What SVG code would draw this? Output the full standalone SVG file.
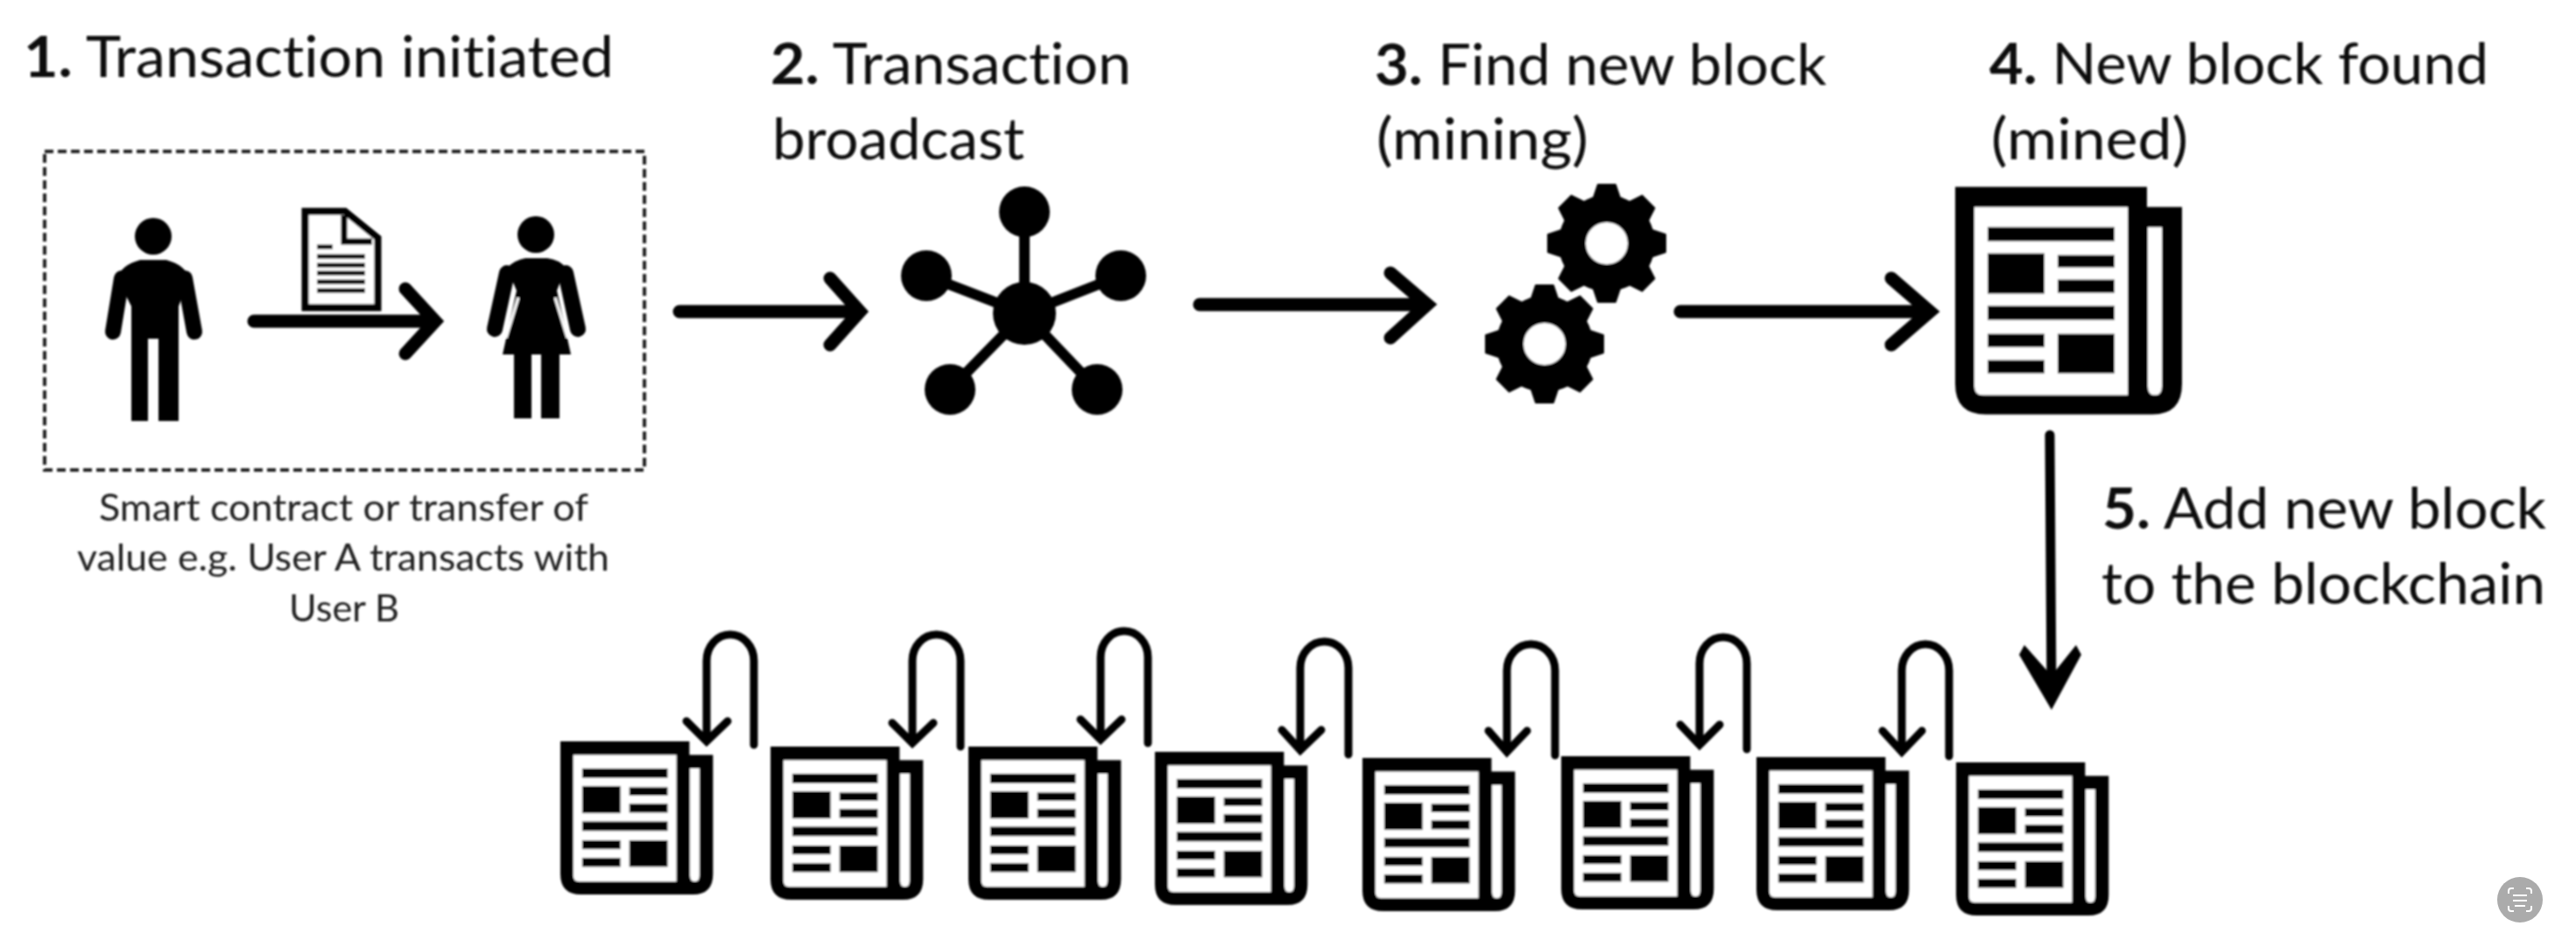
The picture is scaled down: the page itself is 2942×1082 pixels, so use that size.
<svg xmlns="http://www.w3.org/2000/svg" xmlns:xlink="http://www.w3.org/1999/xlink" width="2942" height="1082" viewBox="0 0 2942 1082">
<style>
text{font-family:"Lato","Carlito","Open Sans",sans-serif;fill:#0a0a0a;font-variant-ligatures:none}
.t{font-size:65px}
.b{font-weight:700}
.c{font-size:42px;fill:#222}
.conn{fill:none;stroke:#000;stroke-linecap:round;stroke-linejoin:miter}
.w15{stroke-width:15}
.w9{stroke-width:9}
.w12{stroke-width:11}
.k{fill:#000}
.wh{fill:#fff}
</style>
<defs>
<filter id="soft" x="-2%" y="-2%" width="104%" height="104%"><feGaussianBlur stdDeviation="1.1"/></filter>
<g id="paper">
<path class="k" d="M0 0H219V23H259V225Q259 260 225 260H35Q0 260 0 225Z"/>
<path class="wh" d="M22 23H197V238H32Q22 238 22 228Z"/>
<path class="wh" d="M220 46H236V228Q236 238 228 238Q220 238 220 228Z"/>
<g class="k">
<rect x="37" y="46" width="145" height="16"/>
<rect x="37" y="76" width="65" height="46"/>
<rect x="117" y="78" width="65" height="14"/>
<rect x="117" y="106" width="65" height="15"/>
<rect x="37" y="136" width="145" height="16"/>
<rect x="37" y="168" width="65" height="15"/>
<rect x="37" y="198" width="65" height="15"/>
<rect x="117" y="168" width="65" height="45"/>
</g>
</g>
<path id="tooth" class="k" d="M-15-52L-10-67H10L15-52Z" stroke="#000" stroke-width="2" stroke-linejoin="round"/>
<g id="gear">
<circle class="k" r="55"/>
<use xlink:href="#tooth" href="#tooth"/>
<use xlink:href="#tooth" href="#tooth" transform="rotate(45)"/>
<use xlink:href="#tooth" href="#tooth" transform="rotate(90)"/>
<use xlink:href="#tooth" href="#tooth" transform="rotate(135)"/>
<use xlink:href="#tooth" href="#tooth" transform="rotate(180)"/>
<use xlink:href="#tooth" href="#tooth" transform="rotate(225)"/>
<use xlink:href="#tooth" href="#tooth" transform="rotate(270)"/>
<use xlink:href="#tooth" href="#tooth" transform="rotate(315)"/>
<circle class="wh" r="24"/>
</g>
</defs>
<rect width="2942" height="1082" fill="#fff"/>
<g filter="url(#soft)">
<g id="step1">
<text class="t" x="27" y="88" textLength="674" lengthAdjust="spacingAndGlyphs"><tspan class="b">1.</tspan> Transaction initiated</text>
<rect x="51" y="173" width="685" height="364" fill="none" stroke="#222" stroke-width="4" stroke-dasharray="10 5"/>
<g id="user-a">
<circle class="k" cx="175" cy="270" r="21"/>
<path class="k" d="M134 318Q138 303 160 297H190Q212 303 216 318L204 350V481H181V387H169V481H150V350Z"/>
<path d="M139 318L129 379M211 318L222 379" stroke="#000" stroke-width="18" stroke-linecap="round" fill="none"/>
</g>
<g id="document">
<path d="M348.500 241.500H394L431.500 272V351.500H348.500Z" fill="#fff" stroke="#000" stroke-width="8"/>
<path d="M393 246V276H425" fill="none" stroke="#000" stroke-width="7"/>
<path d="M362 282H380M362 293H417M362 303H417M362 312H417M362 322H417M362 332H417" stroke="#000" stroke-width="5" fill="none"/>
</g>
<g id="user-b">
<circle class="k" cx="612" cy="268" r="21"/>
<path class="k" d="M579 306Q588 297 600 295H625Q640 297 646 306L636 332L652 405H574L590 332Z"/>
<path d="M579 312L565 376M646 312L660 376" stroke="#000" stroke-width="18" stroke-linecap="round" fill="none"/>
<path d="M592 340L578 386M634 340L648 386" stroke="#fff" stroke-width="3" fill="none"/>
<rect class="k" x="587" y="400" width="20" height="78"/>
<rect class="k" x="618" y="400" width="21" height="78"/>
</g>
<text class="c" x="113" y="595" textLength="559" lengthAdjust="spacingAndGlyphs">Smart contract or transfer of</text>
<text class="c" x="88" y="652" textLength="608" lengthAdjust="spacingAndGlyphs">value e.g. User A transacts with</text>
<text class="c" x="330" y="710" textLength="126" lengthAdjust="spacingAndGlyphs">User B</text>
</g>
<g id="step2">
<text class="t" x="880" y="96" textLength="412" lengthAdjust="spacingAndGlyphs"><tspan class="b">2.</tspan> Transaction</text>
<text class="t" x="882" y="182" textLength="288" lengthAdjust="spacingAndGlyphs">broadcast</text>
<path d="M1170 242V358M1058 315L1170 358L1280 315M1085 445L1170 358L1253 445" fill="none" stroke="#000" stroke-width="12"/>
<circle class="k" cx="1170" cy="358" r="36"/>
<circle class="k" cx="1170" cy="242" r="29"/>
<circle class="k" cx="1058" cy="315" r="29"/>
<circle class="k" cx="1280" cy="315" r="29"/>
<circle class="k" cx="1085" cy="445" r="29"/>
<circle class="k" cx="1253" cy="445" r="29"/>
</g>
<g id="step3">
<text class="t" x="1570" y="97" textLength="516" lengthAdjust="spacingAndGlyphs"><tspan class="b">3.</tspan> Find new block</text>
<text class="t" x="1572" y="182" textLength="242" lengthAdjust="spacingAndGlyphs">(mining)</text>
<use xlink:href="#gear" href="#gear" x="1764" y="393"/>
<use xlink:href="#gear" href="#gear" x="1835" y="278"/>
</g>
<g id="step4">
<text class="t" x="2272" y="96" textLength="570" lengthAdjust="spacingAndGlyphs"><tspan class="b">4.</tspan> New block found</text>
<text class="t" x="2274" y="182" textLength="225" lengthAdjust="spacingAndGlyphs">(mined)</text>
<use xlink:href="#paper" href="#paper" transform="translate(2233 213.500)"/>
</g>
<g id="step5">
<text class="t" x="2401" y="604" textLength="507" lengthAdjust="spacingAndGlyphs"><tspan class="b">5.</tspan> Add new block</text>
<text class="t" x="2400" y="690" textLength="507" lengthAdjust="spacingAndGlyphs">to the blockchain</text>
</g>
<g id="chain">
<use id="block1" xlink:href="#paper" href="#paper" transform="translate(640 847) scale(.673)"/>
<use id="block2" xlink:href="#paper" href="#paper" transform="translate(880 853) scale(.673)"/>
<use id="block3" xlink:href="#paper" href="#paper" transform="translate(1106 853) scale(.673)"/>
<use id="block4" xlink:href="#paper" href="#paper" transform="translate(1319 859) scale(.673)"/>
<use id="block5" xlink:href="#paper" href="#paper" transform="translate(1556 866) scale(.673)"/>
<use id="block6" xlink:href="#paper" href="#paper" transform="translate(1783 864) scale(.673)"/>
<use id="block7" xlink:href="#paper" href="#paper" transform="translate(2006 865) scale(.673)"/>
<use id="block8" xlink:href="#paper" href="#paper" transform="translate(2234 871) scale(.673)"/>
</g>
<g id="connectors">
<path class="conn w15" d="M290 367H496M463 330L497 367L463 404"/>
<path class="conn w15" d="M776 356H982M948 318L982 356L948 394"/>
<path class="conn w15" d="M1370 348H1630M1588 312L1630 348L1588 386"/>
<path class="conn w15" d="M1919 356H2204M2160 318L2204 356L2160 394"/>
<path class="conn w12" d="M2341 497L2343 790"/>
<path class="k" d="M2343 811L2306 748L2312 737L2343 772L2371 737L2377 748Z"/>
<path class="conn w9" d="M861 851V755A27 30 0 0 0 807 755V847M784 824L807 847L831 824"/>
<path class="conn w9" d="M1097 853V755A27.500 30 0 0 0 1042 755V849M1019 826L1042 849L1066 826"/>
<path class="conn w9" d="M1311 849V751A27 30 0 0 0 1257 751V845M1234 822L1257 845L1281 822"/>
<path class="conn w9" d="M1540 862V763A27.500 30 0 0 0 1485 763V857M1464 834L1485 857L1509 834"/>
<path class="conn w9" d="M1776 863V766A27.500 30 0 0 0 1721 766V859M1700 835L1721 859L1744 835"/>
<path class="conn w9" d="M1995 856V758A27 30 0 0 0 1941 758V851M1919 828L1941 851L1964 828"/>
<path class="conn w9" d="M2226 864V766A27 30 0 0 0 2172 766V859M2150 835L2172 859L2195 835"/>
</g>
</g>
<g id="badge">
<circle cx="2878" cy="1028" r="26" fill="#ababab"/>
<path d="M2865 1021V1018Q2865 1015 2868 1015H2871M2885 1015H2888Q2891 1015 2891 1018V1021M2865 1035V1038Q2865 1041 2868 1041H2871M2885 1041H2888Q2891 1041 2891 1038V1035M2870 1023H2886M2870 1029H2886M2872 1035H2884" fill="none" stroke="#fff" stroke-width="2"/>
</g>
</svg>
